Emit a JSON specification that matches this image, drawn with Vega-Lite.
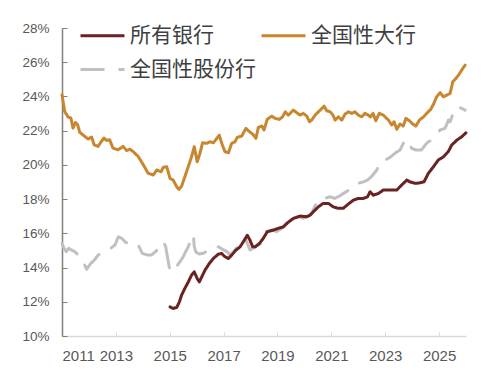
{
  "$schema": "https://vega.github.io/schema/vega-lite/v6.json",
  "width": 404,
  "height": 308,
  "autosize": {"type": "none"},
  "padding": {"left": 62, "top": 28, "right": 18, "bottom": 34},
  "background": "white",
  "config": {
    "view": {"stroke": null},
    "font": "Liberation Sans"
  },
  "data": {"values": [
    {"t":2011.00,"v":15.43,"s":"全国性股份行"},{"t":2011.07,"v":15.13,"s":"全国性股份行"},{"t":2011.16,"v":14.93,"s":"全国性股份行"},{"t":2011.25,"v":15.13,"s":"全国性股份行"},{"t":2011.35,"v":15.03,"s":"全国性股份行"},{"t":2011.47,"v":14.93,"s":"全国性股份行"},{"t":2011.60,"v":14.74,"s":"全国性股份行"},{"t":2011.70,"v":14.64,"s":"全国性股份行"},{"t":2011.79,"v":14.35,"s":"全国性股份行"},{"t":2011.91,"v":13.90,"s":"全国性股份行"},{"t":2012.07,"v":14.25,"s":"全国性股份行"},{"t":2012.20,"v":14.44,"s":"全国性股份行"},{"t":2012.35,"v":14.74,"s":"全国性股份行"},{"t":2012.53,"v":14.93,"s":"全国性股份行"},{"t":2012.72,"v":15.03,"s":"全国性股份行"},{"t":2012.97,"v":15.32,"s":"全国性股份行"},{"t":2013.09,"v":15.80,"s":"全国性股份行"},{"t":2013.22,"v":15.71,"s":"全国性股份行"},{"t":2013.34,"v":15.51,"s":"全国性股份行"},{"t":2013.52,"v":15.32,"s":"全国性股份行"},{"t":2013.83,"v":15.32,"s":"全国性股份行"},{"t":2013.98,"v":14.83,"s":"全国性股份行"},{"t":2014.15,"v":14.74,"s":"全国性股份行"},{"t":2014.33,"v":14.74,"s":"全国性股份行"},{"t":2014.49,"v":14.96,"s":"全国性股份行"},{"t":2014.64,"v":15.22,"s":"全国性股份行"},{"t":2014.76,"v":15.51,"s":"全国性股份行"},{"t":2014.85,"v":15.22,"s":"全国性股份行"},{"t":2014.91,"v":14.67,"s":"全国性股份行"},{"t":2015.01,"v":13.76,"s":"全国性股份行"},{"t":2015.20,"v":13.95,"s":"全国性股份行"},{"t":2015.38,"v":14.34,"s":"全国性股份行"},{"t":2015.50,"v":14.63,"s":"全国性股份行"},{"t":2015.60,"v":14.96,"s":"全国性股份行"},{"t":2015.69,"v":15.22,"s":"全国性股份行"},{"t":2015.78,"v":15.61,"s":"全国性股份行"},{"t":2015.88,"v":15.90,"s":"全国性股份行"},{"t":2015.91,"v":15.22,"s":"全国性股份行"},{"t":2015.97,"v":14.91,"s":"全国性股份行"},{"t":2016.09,"v":14.79,"s":"全国性股份行"},{"t":2016.25,"v":14.83,"s":"全国性股份行"},{"t":2016.43,"v":15.03,"s":"全国性股份行"},{"t":2016.68,"v":15.13,"s":"全国性股份行"},{"t":2016.81,"v":15.22,"s":"全国性股份行"},{"t":2016.94,"v":15.08,"s":"全国性股份行"},{"t":2017.12,"v":14.93,"s":"全国性股份行"},{"t":2017.24,"v":14.74,"s":"全国性股份行"},{"t":2017.43,"v":15.03,"s":"全国性股份行"},{"t":2017.61,"v":15.42,"s":"全国性股份行"},{"t":2017.71,"v":15.71,"s":"全国性股份行"},{"t":2017.83,"v":15.61,"s":"全国性股份行"},{"t":2017.98,"v":15.03,"s":"全国性股份行"},{"t":2018.10,"v":15.13,"s":"全国性股份行"},{"t":2018.29,"v":15.32,"s":"全国性股份行"},{"t":2018.41,"v":15.42,"s":"全国性股份行"},{"t":2018.60,"v":16.10,"s":"全国性股份行"},{"t":2018.79,"v":16.20,"s":"全国性股份行"},{"t":2018.97,"v":16.10,"s":"全国性股份行"},{"t":2019.16,"v":16.30,"s":"全国性股份行"},{"t":2019.34,"v":16.60,"s":"全国性股份行"},{"t":2019.50,"v":16.84,"s":"全国性股份行"},{"t":2019.65,"v":16.88,"s":"全国性股份行"},{"t":2019.77,"v":16.97,"s":"全国性股份行"},{"t":2019.96,"v":16.88,"s":"全国性股份行"},{"t":2020.14,"v":17.01,"s":"全国性股份行"},{"t":2020.27,"v":17.17,"s":"全国性股份行"},{"t":2020.39,"v":17.59,"s":"全国性股份行"},{"t":2020.52,"v":17.94,"s":"全国性股份行"},{"t":2020.64,"v":18.04,"s":"全国性股份行"},{"t":2020.76,"v":18.04,"s":"全国性股份行"},{"t":2020.95,"v":18.14,"s":"全国性股份行"},{"t":2021.13,"v":18.04,"s":"全国性股份行"},{"t":2021.26,"v":18.14,"s":"全国性股份行"},{"t":2021.47,"v":18.35,"s":"全国性股份行"},{"t":2021.69,"v":18.57,"s":"全国性股份行"},{"t":2021.82,"v":18.69,"s":"全国性股份行"},{"t":2022.00,"v":18.92,"s":"全国性股份行"},{"t":2022.19,"v":19.01,"s":"全国性股份行"},{"t":2022.34,"v":19.11,"s":"全国性股份行"},{"t":2022.51,"v":19.35,"s":"全国性股份行"},{"t":2022.69,"v":19.70,"s":"全国性股份行"},{"t":2022.81,"v":20.16,"s":"全国性股份行"},{"t":2022.99,"v":20.28,"s":"全国性股份行"},{"t":2023.18,"v":20.44,"s":"全国性股份行"},{"t":2023.37,"v":20.69,"s":"全国性股份行"},{"t":2023.55,"v":20.87,"s":"全国性股份行"},{"t":2023.67,"v":21.26,"s":"全国性股份行"},{"t":2023.80,"v":21.49,"s":"全国性股份行"},{"t":2023.90,"v":21.26,"s":"全国性股份行"},{"t":2023.98,"v":20.97,"s":"全国性股份行"},{"t":2024.14,"v":20.87,"s":"全国性股份行"},{"t":2024.35,"v":20.87,"s":"全国性股份行"},{"t":2024.48,"v":21.16,"s":"全国性股份行"},{"t":2024.60,"v":21.35,"s":"全国性股份行"},{"t":2024.73,"v":21.45,"s":"全国性股份行"},{"t":2024.89,"v":21.74,"s":"全国性股份行"},{"t":2025.04,"v":22.04,"s":"全国性股份行"},{"t":2025.22,"v":22.13,"s":"全国性股份行"},{"t":2025.35,"v":22.62,"s":"全国性股份行"},{"t":2025.41,"v":22.52,"s":"全国性股份行"},{"t":2025.50,"v":22.91,"s":"全国性股份行"},{"t":2025.59,"v":23.30,"s":"全国性股份行"},{"t":2025.72,"v":23.40,"s":"全国性股份行"},{"t":2025.84,"v":23.30,"s":"全国性股份行"},{"t":2025.97,"v":23.20,"s":"全国性股份行"},

    {"t":2011.00,"v":24.10,"s":"全国性大行"},{"t":2011.10,"v":23.12,"s":"全国性大行"},{"t":2011.23,"v":22.79,"s":"全国性大行"},{"t":2011.33,"v":22.74,"s":"全国性大行"},{"t":2011.41,"v":22.15,"s":"全国性大行"},{"t":2011.50,"v":22.48,"s":"全国性大行"},{"t":2011.58,"v":22.35,"s":"全国性大行"},{"t":2011.66,"v":21.90,"s":"全国性大行"},{"t":2011.85,"v":21.66,"s":"全国性大行"},{"t":2011.97,"v":21.51,"s":"全国性大行"},{"t":2012.10,"v":21.63,"s":"全国性大行"},{"t":2012.19,"v":21.18,"s":"全国性大行"},{"t":2012.34,"v":21.08,"s":"全国性大行"},{"t":2012.46,"v":21.37,"s":"全国性大行"},{"t":2012.56,"v":21.57,"s":"全国性大行"},{"t":2012.65,"v":21.43,"s":"全国性大行"},{"t":2012.77,"v":21.47,"s":"全国性大行"},{"t":2012.89,"v":20.98,"s":"全国性大行"},{"t":2013.08,"v":20.88,"s":"全国性大行"},{"t":2013.27,"v":21.08,"s":"全国性大行"},{"t":2013.40,"v":20.84,"s":"全国性大行"},{"t":2013.52,"v":20.92,"s":"全国性大行"},{"t":2013.64,"v":20.78,"s":"全国性大行"},{"t":2013.83,"v":20.49,"s":"全国性大行"},{"t":2014.02,"v":20.00,"s":"全国性大行"},{"t":2014.20,"v":19.51,"s":"全国性大行"},{"t":2014.39,"v":19.41,"s":"全国性大行"},{"t":2014.52,"v":19.70,"s":"全国性大行"},{"t":2014.68,"v":19.60,"s":"全国性大行"},{"t":2014.76,"v":19.86,"s":"全国性大行"},{"t":2014.89,"v":19.89,"s":"全国性大行"},{"t":2015.01,"v":19.21,"s":"全国性大行"},{"t":2015.13,"v":19.11,"s":"全国性大行"},{"t":2015.26,"v":18.72,"s":"全国性大行"},{"t":2015.34,"v":18.57,"s":"全国性大行"},{"t":2015.44,"v":18.76,"s":"全国性大行"},{"t":2015.56,"v":19.30,"s":"全国性大行"},{"t":2015.81,"v":20.47,"s":"全国性大行"},{"t":2015.91,"v":21.06,"s":"全国性大行"},{"t":2016.02,"v":20.18,"s":"全国性大行"},{"t":2016.12,"v":20.67,"s":"全国性大行"},{"t":2016.22,"v":21.29,"s":"全国性大行"},{"t":2016.37,"v":21.26,"s":"全国性大行"},{"t":2016.50,"v":21.35,"s":"全国性大行"},{"t":2016.62,"v":21.29,"s":"全国性大行"},{"t":2016.72,"v":21.49,"s":"全国性大行"},{"t":2016.84,"v":21.74,"s":"全国性大行"},{"t":2016.93,"v":21.26,"s":"全国性大行"},{"t":2017.05,"v":20.77,"s":"全国性大行"},{"t":2017.18,"v":20.71,"s":"全国性大行"},{"t":2017.30,"v":21.26,"s":"全国性大行"},{"t":2017.42,"v":21.35,"s":"全国性大行"},{"t":2017.51,"v":21.61,"s":"全国性大行"},{"t":2017.67,"v":21.68,"s":"全国性大行"},{"t":2017.83,"v":22.13,"s":"全国性大行"},{"t":2017.96,"v":21.94,"s":"全国性大行"},{"t":2018.08,"v":21.80,"s":"全国性大行"},{"t":2018.20,"v":21.55,"s":"全国性大行"},{"t":2018.29,"v":22.19,"s":"全国性大行"},{"t":2018.42,"v":22.27,"s":"全国性大行"},{"t":2018.50,"v":22.04,"s":"全国性大行"},{"t":2018.62,"v":22.66,"s":"全国性大行"},{"t":2018.79,"v":22.85,"s":"全国性大行"},{"t":2018.91,"v":22.72,"s":"全国性大行"},{"t":2019.07,"v":22.66,"s":"全国性大行"},{"t":2019.19,"v":22.81,"s":"全国性大行"},{"t":2019.29,"v":23.10,"s":"全国性大行"},{"t":2019.40,"v":22.91,"s":"全国性大行"},{"t":2019.47,"v":23.01,"s":"全国性大行"},{"t":2019.59,"v":23.20,"s":"全国性大行"},{"t":2019.72,"v":23.04,"s":"全国性大行"},{"t":2019.84,"v":22.91,"s":"全国性大行"},{"t":2019.96,"v":23.01,"s":"全国性大行"},{"t":2020.09,"v":22.85,"s":"全国性大行"},{"t":2020.19,"v":22.52,"s":"全国性大行"},{"t":2020.27,"v":22.62,"s":"全国性大行"},{"t":2020.40,"v":22.91,"s":"全国性大行"},{"t":2020.52,"v":23.10,"s":"全国性大行"},{"t":2020.65,"v":23.30,"s":"全国性大行"},{"t":2020.73,"v":23.44,"s":"全国性大行"},{"t":2020.83,"v":23.16,"s":"全国性大行"},{"t":2020.96,"v":23.10,"s":"全国性大行"},{"t":2021.06,"v":22.91,"s":"全国性大行"},{"t":2021.14,"v":22.62,"s":"全国性大行"},{"t":2021.26,"v":22.81,"s":"全国性大行"},{"t":2021.39,"v":22.62,"s":"全国性大行"},{"t":2021.51,"v":22.97,"s":"全国性大行"},{"t":2021.63,"v":23.10,"s":"全国性大行"},{"t":2021.76,"v":23.01,"s":"全国性大行"},{"t":2021.88,"v":23.10,"s":"全国性大行"},{"t":2022.00,"v":22.91,"s":"全国性大行"},{"t":2022.13,"v":22.81,"s":"全国性大行"},{"t":2022.25,"v":23.01,"s":"全国性大行"},{"t":2022.37,"v":22.91,"s":"全国性大行"},{"t":2022.45,"v":22.80,"s":"全国性大行"},{"t":2022.55,"v":23.01,"s":"全国性大行"},{"t":2022.65,"v":22.58,"s":"全国性大行"},{"t":2022.78,"v":23.01,"s":"全国性大行"},{"t":2022.93,"v":22.91,"s":"全国性大行"},{"t":2023.12,"v":22.62,"s":"全国性大行"},{"t":2023.24,"v":22.33,"s":"全国性大行"},{"t":2023.33,"v":22.52,"s":"全国性大行"},{"t":2023.43,"v":22.08,"s":"全国性大行"},{"t":2023.55,"v":22.39,"s":"全国性大行"},{"t":2023.67,"v":22.27,"s":"全国性大行"},{"t":2023.77,"v":22.72,"s":"全国性大行"},{"t":2023.90,"v":22.58,"s":"全国性大行"},{"t":2024.02,"v":22.39,"s":"全国性大行"},{"t":2024.14,"v":22.27,"s":"全国性大行"},{"t":2024.27,"v":22.62,"s":"全国性大行"},{"t":2024.42,"v":22.81,"s":"全国性大行"},{"t":2024.54,"v":23.01,"s":"全国性大行"},{"t":2024.69,"v":23.25,"s":"全国性大行"},{"t":2024.81,"v":23.60,"s":"全国性大行"},{"t":2024.91,"v":23.98,"s":"全国性大行"},{"t":2025.04,"v":24.22,"s":"全国性大行"},{"t":2025.16,"v":23.98,"s":"全国性大行"},{"t":2025.29,"v":24.08,"s":"全国性大行"},{"t":2025.41,"v":24.18,"s":"全国性大行"},{"t":2025.51,"v":24.86,"s":"全国性大行"},{"t":2025.63,"v":25.06,"s":"全国性大行"},{"t":2025.75,"v":25.31,"s":"全国性大行"},{"t":2025.88,"v":25.64,"s":"全国性大行"},{"t":2025.97,"v":25.83,"s":"全国性大行"},

    {"t":2015.01,"v":11.70,"s":"所有银行"},{"t":2015.13,"v":11.61,"s":"所有银行"},{"t":2015.26,"v":11.67,"s":"所有银行"},{"t":2015.36,"v":12.00,"s":"所有银行"},{"t":2015.44,"v":12.39,"s":"所有银行"},{"t":2015.56,"v":12.78,"s":"所有银行"},{"t":2015.69,"v":13.16,"s":"所有银行"},{"t":2015.81,"v":13.56,"s":"所有银行"},{"t":2015.91,"v":13.75,"s":"所有银行"},{"t":2016.02,"v":13.36,"s":"所有银行"},{"t":2016.10,"v":13.16,"s":"所有银行"},{"t":2016.19,"v":13.46,"s":"所有银行"},{"t":2016.31,"v":13.85,"s":"所有银行"},{"t":2016.47,"v":14.24,"s":"所有银行"},{"t":2016.62,"v":14.53,"s":"所有银行"},{"t":2016.80,"v":14.78,"s":"所有银行"},{"t":2016.93,"v":14.82,"s":"所有银行"},{"t":2017.05,"v":14.63,"s":"所有银行"},{"t":2017.18,"v":14.53,"s":"所有银行"},{"t":2017.30,"v":14.73,"s":"所有银行"},{"t":2017.46,"v":15.02,"s":"所有银行"},{"t":2017.61,"v":15.21,"s":"所有银行"},{"t":2017.73,"v":15.50,"s":"所有银行"},{"t":2017.88,"v":15.89,"s":"所有银行"},{"t":2017.98,"v":15.60,"s":"所有银行"},{"t":2018.08,"v":15.21,"s":"所有银行"},{"t":2018.17,"v":15.21,"s":"所有银行"},{"t":2018.33,"v":15.41,"s":"所有银行"},{"t":2018.47,"v":15.70,"s":"所有银行"},{"t":2018.62,"v":16.09,"s":"所有银行"},{"t":2018.85,"v":16.19,"s":"所有银行"},{"t":2019.03,"v":16.29,"s":"所有银行"},{"t":2019.22,"v":16.38,"s":"所有银行"},{"t":2019.40,"v":16.65,"s":"所有银行"},{"t":2019.59,"v":16.87,"s":"所有银行"},{"t":2019.84,"v":17.01,"s":"所有银行"},{"t":2020.09,"v":16.97,"s":"所有银行"},{"t":2020.21,"v":17.06,"s":"所有银行"},{"t":2020.33,"v":17.26,"s":"所有银行"},{"t":2020.52,"v":17.55,"s":"所有银行"},{"t":2020.70,"v":17.75,"s":"所有银行"},{"t":2020.89,"v":17.75,"s":"所有银行"},{"t":2021.07,"v":17.55,"s":"所有银行"},{"t":2021.26,"v":17.46,"s":"所有银行"},{"t":2021.44,"v":17.46,"s":"所有银行"},{"t":2021.63,"v":17.71,"s":"所有银行"},{"t":2021.82,"v":17.94,"s":"所有银行"},{"t":2022.00,"v":18.04,"s":"所有银行"},{"t":2022.19,"v":18.04,"s":"所有银行"},{"t":2022.34,"v":18.13,"s":"所有银行"},{"t":2022.44,"v":18.43,"s":"所有银行"},{"t":2022.56,"v":18.23,"s":"所有银行"},{"t":2022.75,"v":18.33,"s":"所有银行"},{"t":2022.93,"v":18.53,"s":"所有银行"},{"t":2023.18,"v":18.53,"s":"所有银行"},{"t":2023.43,"v":18.53,"s":"所有银行"},{"t":2023.61,"v":18.82,"s":"所有银行"},{"t":2023.80,"v":19.11,"s":"所有银行"},{"t":2023.92,"v":19.01,"s":"所有银行"},{"t":2024.11,"v":18.92,"s":"所有银行"},{"t":2024.29,"v":18.95,"s":"所有银行"},{"t":2024.44,"v":19.01,"s":"所有银行"},{"t":2024.60,"v":19.50,"s":"所有银行"},{"t":2024.79,"v":19.89,"s":"所有银行"},{"t":2024.97,"v":20.28,"s":"所有银行"},{"t":2025.16,"v":20.47,"s":"所有银行"},{"t":2025.34,"v":20.77,"s":"所有银行"},{"t":2025.47,"v":21.16,"s":"所有银行"},{"t":2025.66,"v":21.45,"s":"所有银行"},{"t":2025.84,"v":21.64,"s":"所有银行"},{"t":2026.00,"v":21.88,"s":"所有银行"}
  ]},
  "mark": {"type": "line", "strokeWidth": 3, "strokeCap": "round", "strokeJoin": "round"},
  "encoding": {
    "x": {
      "field": "t", "type": "quantitative",
      "scale": {"domain": [2011, 2026], "nice": false, "zero": false},
      "axis": {
        "title": null, "grid": false,
        "values": [2011, 2013, 2015, 2017, 2019, 2021, 2023, 2025],
        "format": "d",
        "domainColor": "#d9d9d9", "domainWidth": 1.5,
        "tickColor": "#d9d9d9", "tickSize": -4, "tickWidth": 1,
        "labelPadding": 16, "labelFontSize": 15, "labelColor": "#595959",
        "labelFont": "Liberation Sans"
      }
    },
    "y": {
      "field": "v", "type": "quantitative",
      "scale": {"domain": [10, 28], "nice": false, "zero": false},
      "axis": {
        "title": null, "grid": false,
        "values": [10, 12, 14, 16, 18, 20, 22, 24, 26, 28],
        "labelExpr": "datum.value + '%'",
        "domainColor": "#808080", "domainWidth": 1.5,
        "tickColor": "#808080", "tickSize": -5, "tickWidth": 1,
        "labelPadding": 18, "labelFontSize": 13.5, "labelColor": "#595959",
        "labelFont": "Liberation Sans"
      }
    },
    "color": {
      "field": "s", "type": "nominal",
      "scale": {
        "domain": ["所有银行", "全国性大行", "全国性股份行"],
        "range": ["#6B2222", "#C8872F", "#C0C0C0"]
      },
      "legend": {
        "title": null, "orient": "none", "legendX": 17, "legendY": -16,
        "columns": 2, "direction": "horizontal",
        "symbolType": "stroke", "symbolSize": 1936, "symbolStrokeWidth": 3,
        "labelFont": "Noto Sans CJK SC", "labelFontSize": 21, "labelColor": "#404040",
        "labelOffset": 4, "columnPadding": -1, "rowPadding": -1, "padding": 0
      }
    },
    "strokeDash": {
      "field": "s", "type": "nominal",
      "scale": {
        "domain": ["所有银行", "全国性大行", "全国性股份行"],
        "range": [[1, 0], [1, 0], [24, 14]]
      },
      "legend": null
    },
    "order": {"field": "t", "type": "quantitative"}
  }
}
